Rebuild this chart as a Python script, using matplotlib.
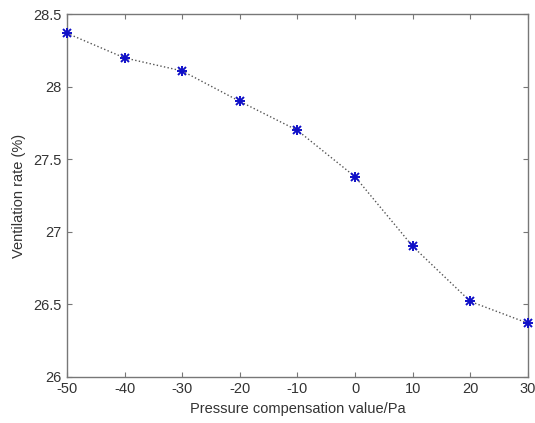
import numpy as np
import matplotlib.pyplot as plt

# pressure compensation value (Pa) vs ventilation rate (%)
pressure = [-50, -40, -30, -20, -10, 0, 10, 20, 30]
vent_rate = [28.37, 28.20, 28.11, 27.90, 27.70, 27.38, 26.90, 26.52, 26.37]

plt.rcParams['font.family'] = ['Liberation Sans', 'DejaVu Sans']
plt.rcParams['axes.unicode_minus'] = False

fig = plt.figure(figsize=(5.35, 4.23), dpi=100)
ax = fig.add_axes([0.125, 0.109, 0.862, 0.857])

ax.plot(pressure, vent_rate, linestyle=':', color='#555555', linewidth=1.0)
# MATLAB style asterisk: plus + cross
ax.plot(pressure, vent_rate, linestyle='none', marker='+', color='#1010c8', markersize=7.5,
        markeredgewidth=1.4, clip_on=False, zorder=3)
ax.plot(pressure, vent_rate, linestyle='none', marker='x', color='#1010c8', markersize=6,
        markeredgewidth=1.4, clip_on=False, zorder=3)

ax.set_xlim(-50, 30)
ax.set_ylim(26, 28.5)
ax.set_xticks(np.arange(-50, 31, 10))
ax.set_yticks([26, 26.5, 27, 27.5, 28, 28.5])
ax.set_yticklabels(['26', '26.5', '27', '27.5', '28', '28.5'])

for s in ax.spines.values():
    s.set_color('#777777')
    s.set_linewidth(1.0)
ax.tick_params(direction='in', length=3.5, colors='#777777', labelcolor='#333333', labelsize=10.5,
               top=True, right=True, pad=4)

ax.set_xlabel('Pressure compensation value/Pa', fontsize=10.5, color='#333333', labelpad=4)
ax.set_ylabel('Ventilation rate (%)', fontsize=10.5, color='#333333', labelpad=5)

fig.savefig('out.png', dpi=100)
